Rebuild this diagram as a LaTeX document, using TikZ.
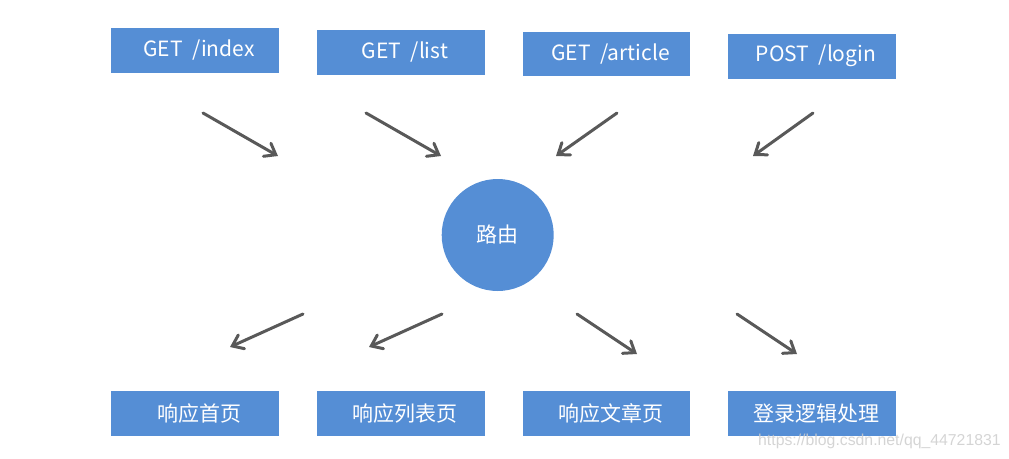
\documentclass[tikz,border=0pt]{standalone}
\usepackage{fontspec}
\newfontfamily\cjk{Noto Sans CJK SC}
\newfontfamily\wmfont{Liberation Sans}
\usetikzlibrary{arrows.meta}
\definecolor{boxblue}{RGB}{85,142,213}
\definecolor{arrowgray}{RGB}{89,89,89}
\definecolor{wmgray}{RGB}{205,205,205}
\begin{document}
\begin{tikzpicture}[x=1pt,y=1pt,
  bx/.style={fill=boxblue,draw=none,minimum width=168pt,minimum height=45pt,inner sep=0pt,
    text=white,font=\cjk\fontsize{21}{25}\selectfont},
  hub/.style={circle,fill=boxblue,draw=none,minimum size=112pt,inner sep=0pt,
    text=white,font=\cjk\fontsize{21}{25}\selectfont},
  arr/.style={draw=arrowgray,line width=3pt,line cap=round,
    -{Straight Barb[length=10pt,width=15pt,line cap=round]}},
  wm/.style={text=wmgray,opacity=0.85,font=\wmfont\fontsize{15.8}{18}\selectfont,inner sep=0pt,anchor=base west}
]
\useasboundingbox (0,0) rectangle (1009,-458);
% top request boxes
\node[bx] (r1) at (195,-50.5) {\hspace*{8pt}GET\ \ /index};
\node[bx] (r2) at (401,-52.5) {\hspace*{8pt}GET\ \ /list};
\node[bx,minimum width=167pt,minimum height=44pt] (r3) at (606.5,-54) {\hspace*{8pt}GET\ \ /article};
\node[bx] (r4) at (812,-56) {\hspace*{8pt}POST\ \ /login};
% hub
\node[hub] (router) at (497.7,-235) {路由};
% bottom response boxes
\node[bx] (p1) at (195,-413.5) {\hspace*{8pt}响应首页};
\node[bx] (p2) at (401,-413.5) {\hspace*{8pt}响应列表页};
\node[bx,minimum width=167pt] (p3) at (606.5,-413.5) {\hspace*{8pt}响应文章页};
\node[bx] (p4) at (812,-413.5) {\hspace*{8pt}登录逻辑处理};
% arrow end points
\coordinate (a1s) at (203,-113); \coordinate (a1e) at (278,-156);
\coordinate (a2s) at (366,-113); \coordinate (a2e) at (441,-156);
\coordinate (a3s) at (617,-113); \coordinate (a3e) at (556,-156);
\coordinate (a4s) at (813,-113); \coordinate (a4e) at (753,-156);
\coordinate (b1s) at (303,-314); \coordinate (b1e) at (230,-347);
\coordinate (b2s) at (442,-314); \coordinate (b2e) at (369,-347);
\coordinate (b3s) at (577,-314); \coordinate (b3e) at (637,-354);
\coordinate (b4s) at (737,-314); \coordinate (b4e) at (797,-354);
\draw[arr] (a1s) -- (a1e);
\draw[arr] (a2s) -- (a2e);
\draw[arr] (a3s) -- (a3e);
\draw[arr] (a4s) -- (a4e);
\draw[arr] (b1s) -- (b1e);
\draw[arr] (b2s) -- (b2e);
\draw[arr] (b3s) -- (b3e);
\draw[arr] (b4s) -- (b4e);
% watermark
\node[wm] (wmark) at (758,-445) {https://blog.csdn.net/qq\_44721831};
\end{tikzpicture}
\end{document}
